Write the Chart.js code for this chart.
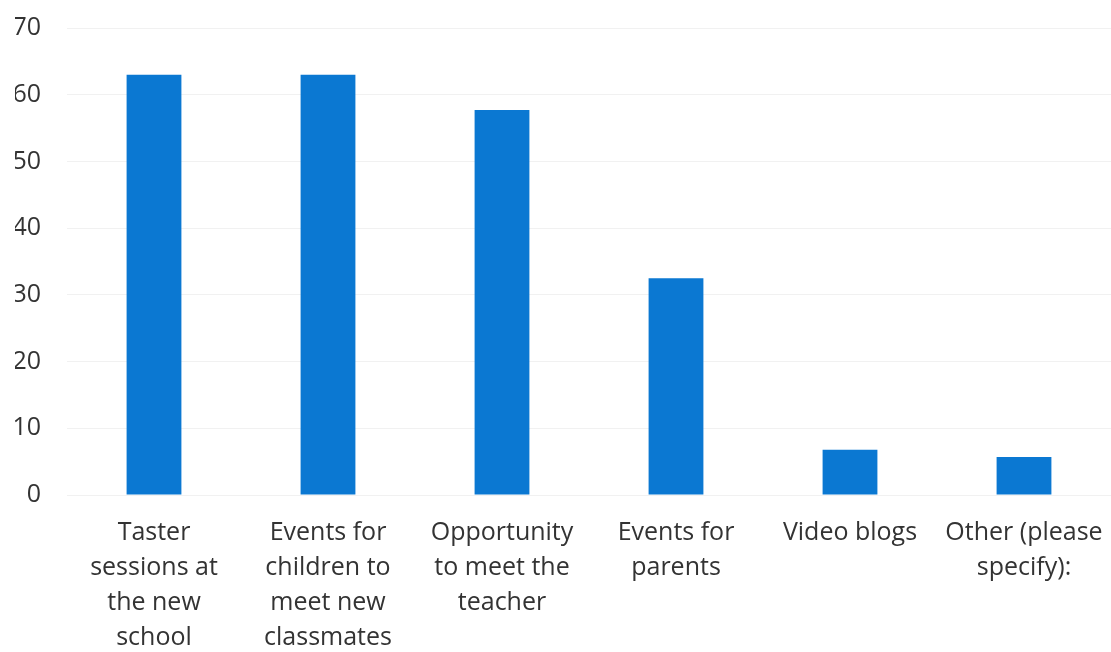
<!DOCTYPE html>
<html lang="en">
<head>
    <meta charset="UTF-8">
    <title>Transition activities</title>
    <script src="https://cdn.jsdelivr.net/npm/chart.js"></script>
    <style>
        html, body {
            margin: 0;
            padding: 0;
            background: #ffffff;
        }
        #wrap {
            width: 1111px;
            height: 652px;
        }
    </style>
</head>
<body>
    <div id="wrap">
        <canvas id="chart"></canvas>
    </div>

    <script>
        const categories = [
            ['Taster', 'sessions at', 'the new', 'school'],
            ['Events for', 'children to', 'meet new', 'classmates'],
            ['Opportunity', 'to meet the', 'teacher'],
            ['Events for', 'parents'],
            ['Video blogs'],
            ['Other (please', 'specify):']
        ];
        const responses = [63, 63, 57.7, 32.5, 6.8, 5.7];
        const yTicks = [0, 10, 20, 30, 40, 50, 60, 70];

        const textColor = '#333333';
        const fontFamily = '"Open Sans", Lato, sans-serif';

        const ctx = document.getElementById('chart').getContext('2d');
        new Chart(ctx, {
            type: 'bar',
            data: {
                labels: categories,
                datasets: [{
                    data: responses,
                    backgroundColor: '#0B78D2',
                    barPercentage: 0.315,
                    categoryPercentage: 1
                }]
            },
            options: {
                responsive: true,
                maintainAspectRatio: false,
                animation: false,
                layout: {
                    padding: { left: 15, right: 0, top: 28, bottom: 0 }
                },
                plugins: {
                    legend: { display: false },
                    tooltip: { enabled: false }
                },
                scales: {
                    x: {
                        grid: { display: false, drawTicks: false },
                        border: { display: false },
                        afterFit: (scale) => {
                            scale.height = 157;
                            scale.paddingLeft = 0;
                            scale.paddingRight = 0;
                        },
                        ticks: {
                            color: textColor,
                            font: { family: fontFamily, size: 25, lineHeight: 1.4 },
                            padding: 20,
                            maxRotation: 0,
                            autoSkip: false
                        }
                    },
                    y: {
                        min: 0,
                        max: 70,
                        afterBuildTicks: (axis) => {
                            axis.ticks = yTicks.map(v => ({ value: v }));
                        },
                        afterFit: (scale) => {
                            scale.width = 52;
                            scale.paddingTop = 0;
                            scale.paddingBottom = 0;
                        },
                        grid: { color: '#f1f1f1', lineWidth: 1, drawTicks: false },
                        border: { display: false },
                        ticks: {
                            color: textColor,
                            font: { family: fontFamily, size: 25 },
                            padding: 26
                        }
                    }
                }
            }
        });
    </script>
</body>
</html>
